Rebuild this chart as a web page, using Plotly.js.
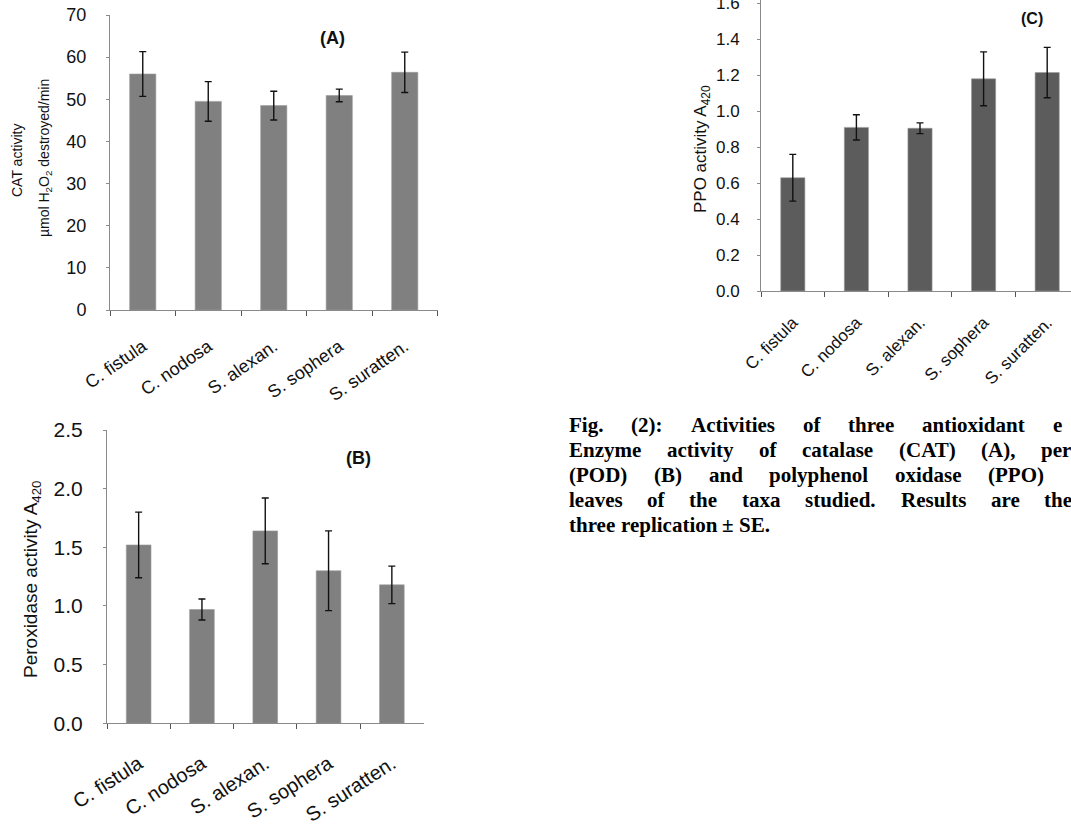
<!DOCTYPE html>
<html>
<head>
<meta charset="utf-8">
<script src="https://cdn.plot.ly/plotly-3.0.1.min.js"></script>
<style>html,body{margin:0;padding:0;background:#fff;}#chart{width:1071px;height:826px;}</style>
</head>
<body>
<div id="chart"></div>
<script>
// ---- data ----
const categories = ['C. fistula', 'C. nodosa', 'S. alexan.', 'S. sophera', 'S. suratten.'];
const catMean = [56.0, 49.5, 48.5, 50.9, 56.4];
const catSE   = [5.3, 4.7, 3.4, 1.5, 4.8];
const podMean = [1.52, 0.97, 1.64, 1.30, 1.18];
const podSE   = [0.28, 0.09, 0.28, 0.34, 0.16];
const ppoMean = [0.63, 0.91, 0.905, 1.18, 1.215];
const ppoSE   = [0.13, 0.07, 0.03, 0.15, 0.14];
const captionLines = [
  'Fig. (2): Activities of three antioxidant e',
  'Enzyme activity of catalase (CAT) (A), per',
  '(POD) (B) and polyphenol oxidase (PPO)',
  'leaves of the taxa studied. Results are the',
  'three replication ± SE.'
];

// ---- layout helpers ----
const W = 1071, H = 826;
const px = x => x / W;
const py = y => 1 - y / H;

function bar(xa, ya, y, se, color, width) {
  return {
    type: 'bar', x: categories, y: y, xaxis: xa, yaxis: ya,
    width: width,
    marker: {color: color, line: {color: '#9a9a9a', width: 0.6}},
    error_y: {type: 'data', array: se, visible: true, color: '#111', thickness: 1.4, width: 3.5},
    showlegend: false, hoverinfo: 'x+y'
  };
}

const data = [
  bar('x', 'y', catMean, catSE, '#808080', 0.4),
  bar('x2', 'y2', podMean, podSE, '#808080', 0.39),
  bar('x3', 'y3', ppoMean, ppoSE, '#5c5c5c', 0.38)
];

const fontF = 'Liberation Sans, Arial, sans-serif';
function xax(dom, anchor, size, angle, standoff, range) {
  const a = {
    domain: dom, anchor: anchor, type: 'category',
    showline: true, linecolor: '#8a8a8a', linewidth: 1,
    ticks: 'outside', tickson: 'boundaries', ticklen: 5, tickcolor: '#555', tickwidth: 1,
    tickangle: angle, tickfont: {family: fontF, size: size, color: '#111'},
    ticklabelstandoff: standoff, ticklabeloverflow: 'allow',
    showgrid: false, zeroline: false, fixedrange: true
  };
  if (range) { a.range = range; a.autorange = false; }
  return a;
}
function yax(dom, anchor, range, dtick, size, fmt, standoff) {
  return {
    domain: dom, anchor: anchor, range: range, autorange: false, dtick: dtick, tick0: 0,
    showline: true, linecolor: '#8a8a8a', linewidth: 1,
    ticks: 'outside', ticklen: 3, tickcolor: '#8a8a8a',
    tickfont: {family: fontF, size: size, color: '#111'}, tickformat: fmt,
    ticklabelstandoff: standoff, ticklabeloverflow: 'allow',
    showgrid: false, zeroline: false, fixedrange: true
  };
}

const ann = [];
function label(text, x, y, size, opts) {
  ann.push(Object.assign({text: text, xref: 'paper', yref: 'paper', x: px(x), y: py(y),
    xanchor: 'center', yanchor: 'middle',
    showarrow: false, font: {family: fontF, size: size, color: '#111'}}, opts || {}));
}
// panel letters
label('<b>(A)</b>', 332, 38, 18);
label('<b>(B)</b>', 358, 458, 18);
label('<b>(C)</b>', 1032, 18, 16);
// axis titles
label('CAT activity', 17, 161, 14, {textangle: -90});
label('µmol H<sub>2</sub>O<sub>2</sub> destroyed/min', 45, 158, 14, {textangle: -90});
label('Peroxidase activity A<sub>420</sub>', 32, 579, 19, {textangle: -90});
label('PPO activity A<sub>420</sub>', 702, 149, 17, {textangle: -90});

// caption: justified lines, word by word
const capSize = 21;
const capFamily = 'Liberation Serif, Times New Roman, serif';
const capX0 = 568, capY0 = 425, capLead = 25;
const capLastWordX = [1052, 1040, 987, 1043, null];
const ctx = document.createElement('canvas').getContext('2d');
ctx.font = 'bold ' + capSize + 'px "Liberation Serif"';
captionLines.forEach((line, i) => {
  const words = line.split(' ');
  const widths = words.map(w => ctx.measureText(w).width);
  const spaceW = ctx.measureText(' ').width;
  let gap = spaceW;
  if (capLastWordX[i] !== null && words.length > 1) {
    const sumW = widths.slice(0, -1).reduce((a, b) => a + b, 0);
    gap = Math.max(spaceW, (capLastWordX[i] - capX0 - sumW) / (words.length - 1));
  }
  let x = capX0;
  words.forEach((w, j) => {
    ann.push({text: '<b>' + w + '</b>', xref: 'paper', yref: 'paper', x: px(x), y: py(capY0 + i * capLead),
      xanchor: 'left', yanchor: 'middle', showarrow: false, xshift: -1,
      font: {family: capFamily, size: capSize, color: '#000'}});
    x += widths[j] + gap;
  });
});

const layout = {
  width: W, height: H, margin: {l: 0, r: 0, t: 0, b: 0},
  paper_bgcolor: '#fff', plot_bgcolor: 'rgba(0,0,0,0)',
  showlegend: false,
  xaxis: xax([px(110), px(437.5)], 'y', 18, -35, 18),
  yaxis: yax([py(310), py(15)], 'x', [0, 70], 10, 18, null, 16),
  xaxis2: xax([px(107), px(423.5)], 'y2', 20, -33, 20),
  yaxis2: yax([py(723.3), py(430)], 'x2', [0, 2.5], 0.5, 21, '.1f', 16),
  xaxis3: xax([px(761), 1], 'y3', 17, -45, 14, [-0.5, -0.5 + (1071 - 761) / 63.6]),
  yaxis3: yax([py(291), 1], 'x3', [0, 291 / 179.8], 0.2, 17, '.1f', 14),
  annotations: ann
};

Plotly.newPlot('chart', data, layout, {staticPlot: true, displayModeBar: false});
</script>
</body>
</html>
